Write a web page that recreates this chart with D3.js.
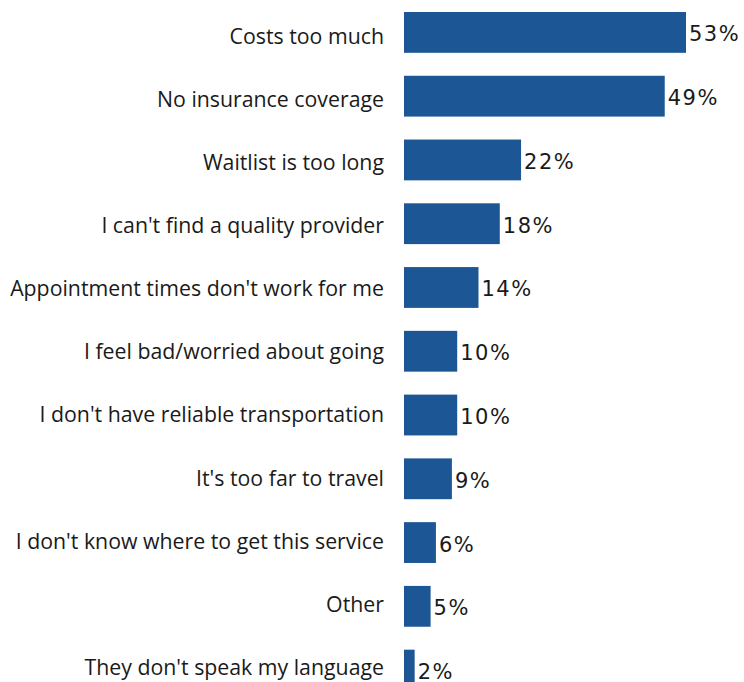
<!DOCTYPE html>
<html>
<head>
<meta charset="utf-8">
<script src="https://cdn.jsdelivr.net/npm/d3@7"></script>
<style>
  body { margin: 0; background: #fff; }
</style>
</head>
<body>
<svg class="chart"></svg>
<script>
var categories = [
    "Costs too much",
    "No insurance coverage",
    "Waitlist is too long",
    "I can't find a quality provider",
    "Appointment times don't work for me",
    "I feel bad/worried about going",
    "I don't have reliable transportation",
    "It's too far to travel",
    "I don't know where to get this service",
    "Other",
    "They don't speak my language"
];
var values = [53, 49, 22, 18, 14, 10, 10, 9, 6, 5, 2];

var width = 744, height = 682;

var svg = d3.select(".chart")
    .attr("width", width)
    .attr("height", height);

// bars start at x=404, 53% reaches ~686
var x = d3.scaleLinear().domain([0, 53]).range([404, 686]);

var y = d3.scaleBand()
    .domain(categories)
    .range([12, 690.5])
    .paddingInner(0.36)
    .paddingOuter(0);

// category labels are spaced slightly tighter than the bars
var yLabel = d3.scalePoint()
    .domain(categories)
    .range([43.5, 675]);

svg.selectAll("rect.bar")
    .data(values)
    .enter()
    .append("rect")
    .attr("class", "bar")
    .attr("x", x(0))
    .attr("y", function(d, i) { return y(categories[i]); })
    .attr("width", function(d) { return x(d) - x(0); })
    .attr("height", y.bandwidth())
    .attr("fill", "#1c5694");

svg.selectAll("text.cat")
    .data(categories)
    .enter()
    .append("text")
    .attr("class", "cat")
    .attr("x", 384)
    .attr("y", function(d) { return yLabel(d); })
    .attr("text-anchor", "end")
    .attr("font-family", "'Open Sans', sans-serif")
    .attr("font-size", 21.3)
    .attr("fill", "#1a1a1a")
    .text(function(d) { return d; });

// value labels
svg.selectAll("text.val")
    .data(values)
    .enter()
    .append("text")
    .attr("class", "val")
    .attr("x", function(d) { return x(d) + 3; })
    .attr("y", function(d, i) { return y(categories[i]) + y.bandwidth() / 2 + 9; })
    .attr("font-family", "'DejaVu Sans', sans-serif")
    .attr("font-size", 21)
    .attr("letter-spacing", 1.5)
    .attr("fill", "#1a1a1a")
    .text(function(d) { return d + "%"; });
</script>
</body>
</html>
